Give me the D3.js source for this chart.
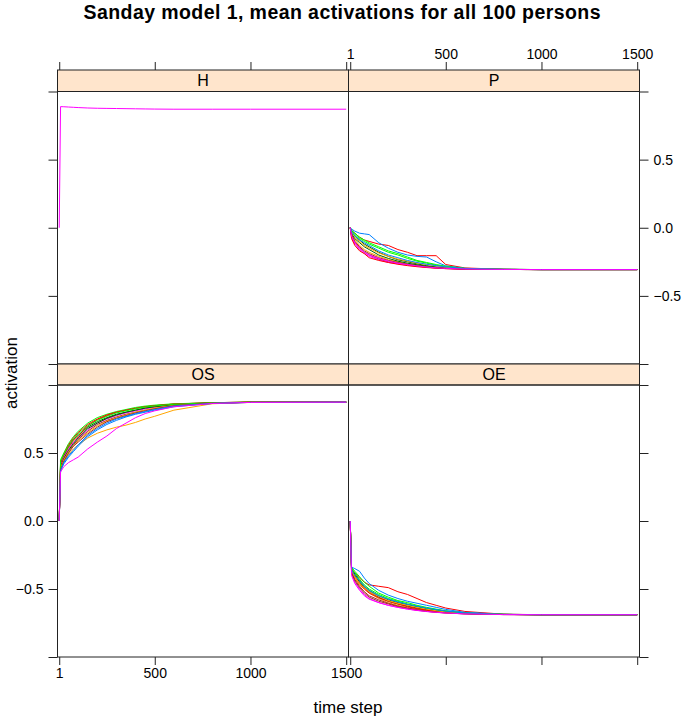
<!DOCTYPE html>
<html>
<head>
<meta charset="utf-8">
<script src="https://cdn.jsdelivr.net/npm/d3@7"></script>
<style>
  body { margin: 0; background: #fff; }
  svg { font-family: "Liberation Sans", Arial, Helvetica, sans-serif; }
</style>
</head>
<body>
<svg id="chart" width="685" height="718"></svg>
<script>
var timeSteps = [1, 8, 25, 50, 75, 100, 150, 200, 250, 300, 350, 400, 450, 500, 600, 800, 1000, 1500];

// a sample of persons (the last one, 100, is drawn on top)
var personIds = [87, 88, 89, 90, 91, 92, 93, 94, 95, 96, 97, 98, 99, 100];

// H is identical for every person, so only the top one (person 100) shows
var hActivation = [0, 0.889, 0.888, 0.886, 0.884, 0.882, 0.879, 0.877, 0.876, 0.875, 0.874, 0.873, 0.872, 0.871, 0.870, 0.870, 0.870, 0.870];

var pActivation = [
  [0, -0.03, -0.06, -0.09, -0.12, -0.14, -0.18, -0.21, -0.235, -0.25, -0.265, -0.278, -0.288, -0.295, -0.302, -0.306, -0.307, -0.307],
  [0, -0.02, -0.04, -0.07, -0.09, -0.10, -0.12, -0.13, -0.16, -0.18, -0.205, -0.205, -0.205, -0.27, -0.295, -0.305, -0.307, -0.307],
  [0, -0.05, -0.09, -0.13, -0.16, -0.18, -0.21, -0.235, -0.25, -0.265, -0.275, -0.285, -0.292, -0.297, -0.303, -0.306, -0.307, -0.307],
  [0, -0.02, -0.05, -0.08, -0.10, -0.12, -0.15, -0.18, -0.20, -0.225, -0.245, -0.26, -0.275, -0.288, -0.30, -0.306, -0.307, -0.307],
  [0, -0.06, -0.11, -0.15, -0.18, -0.20, -0.23, -0.25, -0.26, -0.27, -0.28, -0.29, -0.295, -0.30, -0.304, -0.306, -0.307, -0.307],
  [0, -0.01, -0.025, -0.04, -0.045, -0.05, -0.11, -0.15, -0.18, -0.20, -0.21, -0.215, -0.25, -0.28, -0.298, -0.305, -0.307, -0.307],
  [0, -0.07, -0.12, -0.16, -0.19, -0.21, -0.235, -0.255, -0.265, -0.275, -0.283, -0.29, -0.295, -0.299, -0.304, -0.306, -0.307, -0.307],
  [0, -0.04, -0.08, -0.11, -0.14, -0.16, -0.20, -0.225, -0.245, -0.26, -0.272, -0.282, -0.29, -0.296, -0.302, -0.306, -0.307, -0.307],
  [0, -0.08, -0.13, -0.17, -0.19, -0.22, -0.24, -0.255, -0.268, -0.278, -0.286, -0.292, -0.297, -0.30, -0.304, -0.306, -0.307, -0.307],
  [0, -0.03, -0.07, -0.10, -0.13, -0.15, -0.185, -0.21, -0.23, -0.245, -0.26, -0.27, -0.28, -0.29, -0.30, -0.305, -0.307, -0.307],
  [0, -0.02, -0.04, -0.07, -0.09, -0.11, -0.14, -0.17, -0.19, -0.215, -0.24, -0.255, -0.27, -0.282, -0.298, -0.305, -0.307, -0.307],
  [0, -0.05, -0.10, -0.14, -0.17, -0.19, -0.22, -0.24, -0.255, -0.268, -0.278, -0.287, -0.293, -0.298, -0.303, -0.306, -0.307, -0.307],
  [0, -0.03, -0.06, -0.09, -0.11, -0.13, -0.17, -0.20, -0.22, -0.24, -0.255, -0.268, -0.278, -0.287, -0.299, -0.305, -0.307, -0.307],
  [0, -0.06, -0.11, -0.15, -0.18, -0.20, -0.225, -0.245, -0.26, -0.27, -0.28, -0.288, -0.294, -0.298, -0.303, -0.306, -0.307, -0.307]
];

var osActivation = [
  [0, 0.42, 0.48, 0.55, 0.60, 0.63, 0.69, 0.73, 0.76, 0.785, 0.80, 0.815, 0.83, 0.84, 0.855, 0.868, 0.873, 0.874],
  [0, 0.40, 0.47, 0.54, 0.59, 0.62, 0.70, 0.745, 0.775, 0.80, 0.815, 0.83, 0.84, 0.848, 0.86, 0.87, 0.874, 0.874],
  [0, 0.38, 0.44, 0.49, 0.53, 0.56, 0.61, 0.645, 0.67, 0.69, 0.705, 0.725, 0.75, 0.77, 0.815, 0.862, 0.872, 0.874],
  [0, 0.45, 0.50, 0.57, 0.62, 0.66, 0.72, 0.76, 0.785, 0.805, 0.82, 0.835, 0.845, 0.852, 0.862, 0.87, 0.874, 0.874],
  [0, 0.39, 0.45, 0.51, 0.56, 0.60, 0.66, 0.71, 0.74, 0.765, 0.785, 0.80, 0.815, 0.828, 0.848, 0.866, 0.873, 0.874],
  [0, 0.37, 0.42, 0.47, 0.51, 0.55, 0.62, 0.67, 0.71, 0.74, 0.765, 0.785, 0.80, 0.815, 0.84, 0.864, 0.872, 0.874],
  [0, 0.41, 0.47, 0.53, 0.58, 0.61, 0.67, 0.72, 0.75, 0.775, 0.795, 0.81, 0.825, 0.836, 0.852, 0.867, 0.873, 0.874],
  [0, 0.40, 0.46, 0.52, 0.57, 0.61, 0.68, 0.72, 0.755, 0.78, 0.80, 0.815, 0.83, 0.84, 0.855, 0.868, 0.873, 0.874],
  [0, 0.43, 0.49, 0.56, 0.61, 0.65, 0.71, 0.75, 0.78, 0.80, 0.815, 0.828, 0.84, 0.848, 0.86, 0.87, 0.874, 0.874],
  [0, 0.39, 0.45, 0.51, 0.55, 0.59, 0.65, 0.70, 0.735, 0.76, 0.78, 0.80, 0.815, 0.83, 0.85, 0.866, 0.873, 0.874],
  [0, 0.44, 0.49, 0.55, 0.60, 0.64, 0.70, 0.74, 0.77, 0.795, 0.81, 0.825, 0.838, 0.846, 0.858, 0.869, 0.874, 0.874],
  [0, 0.38, 0.44, 0.50, 0.55, 0.58, 0.64, 0.69, 0.73, 0.755, 0.775, 0.795, 0.81, 0.825, 0.848, 0.866, 0.873, 0.874],
  [0, 0.37, 0.43, 0.48, 0.52, 0.56, 0.63, 0.68, 0.72, 0.75, 0.77, 0.79, 0.805, 0.82, 0.845, 0.865, 0.872, 0.874],
  [0, 0.36, 0.40, 0.43, 0.45, 0.47, 0.53, 0.58, 0.625, 0.68, 0.72, 0.76, 0.79, 0.81, 0.84, 0.864, 0.872, 0.874]
];

var oeActivation = [
  [0, -0.35, -0.39, -0.44, -0.48, -0.51, -0.55, -0.58, -0.60, -0.615, -0.63, -0.645, -0.655, -0.665, -0.678, -0.687, -0.689, -0.689],
  [0, -0.36, -0.38, -0.42, -0.45, -0.47, -0.48, -0.49, -0.52, -0.54, -0.57, -0.60, -0.62, -0.64, -0.665, -0.685, -0.689, -0.689],
  [0, -0.37, -0.42, -0.47, -0.50, -0.53, -0.57, -0.60, -0.62, -0.635, -0.648, -0.658, -0.666, -0.672, -0.68, -0.687, -0.689, -0.689],
  [0, -0.34, -0.37, -0.41, -0.45, -0.48, -0.53, -0.56, -0.585, -0.60, -0.62, -0.635, -0.648, -0.66, -0.675, -0.686, -0.689, -0.689],
  [0, -0.38, -0.43, -0.48, -0.52, -0.55, -0.58, -0.605, -0.625, -0.64, -0.652, -0.662, -0.67, -0.675, -0.682, -0.688, -0.689, -0.689],
  [0, -0.34, -0.35, -0.37, -0.42, -0.46, -0.51, -0.545, -0.57, -0.59, -0.605, -0.62, -0.635, -0.65, -0.672, -0.686, -0.689, -0.689],
  [0, -0.39, -0.45, -0.50, -0.54, -0.57, -0.60, -0.62, -0.635, -0.648, -0.658, -0.666, -0.672, -0.677, -0.683, -0.688, -0.689, -0.689],
  [0, -0.36, -0.40, -0.45, -0.49, -0.52, -0.56, -0.59, -0.61, -0.625, -0.64, -0.652, -0.662, -0.67, -0.68, -0.687, -0.689, -0.689],
  [0, -0.35, -0.41, -0.46, -0.50, -0.53, -0.565, -0.59, -0.61, -0.63, -0.645, -0.656, -0.665, -0.672, -0.68, -0.687, -0.689, -0.689],
  [0, -0.37, -0.41, -0.46, -0.49, -0.52, -0.555, -0.585, -0.605, -0.62, -0.635, -0.648, -0.66, -0.668, -0.679, -0.687, -0.689, -0.689],
  [0, -0.35, -0.38, -0.43, -0.47, -0.50, -0.54, -0.57, -0.59, -0.61, -0.625, -0.64, -0.652, -0.662, -0.677, -0.687, -0.689, -0.689],
  [0, -0.38, -0.44, -0.49, -0.53, -0.56, -0.59, -0.61, -0.63, -0.643, -0.655, -0.664, -0.671, -0.676, -0.683, -0.688, -0.689, -0.689],
  [0, -0.36, -0.40, -0.44, -0.48, -0.51, -0.55, -0.575, -0.595, -0.612, -0.627, -0.64, -0.652, -0.662, -0.676, -0.687, -0.689, -0.689],
  [0, -0.40, -0.46, -0.51, -0.55, -0.575, -0.60, -0.62, -0.635, -0.647, -0.657, -0.665, -0.671, -0.676, -0.683, -0.688, -0.689, -0.689]
];

var xTicks = [1, 500, 1000, 1500];
var yTicks = [-1, -0.5, 0, 0.5, 1];
var yLabelled = [-0.5, 0, 0.5];

// lattice superpose.line colours, cycled by person
var palette = ['#0080ff', '#ff00ff', '#006400', '#ff0000', '#ffa500', '#00ff00', '#a52a2a'];

var svg = d3.select('#chart');

var cols = [[57.5, 348.5], [348.5, 639.5]];
var rows = [{strip: 70, top: 91.5, bottom: 364}, {strip: 364, top: 385, bottom: 657}];

var panels = [
  {name: 'H',  col: 0, row: 0, ids: [100], series: [hActivation]},
  {name: 'P',  col: 1, row: 0, ids: personIds, series: pActivation},
  {name: 'OS', col: 0, row: 1, ids: personIds, series: osActivation},
  {name: 'OE', col: 1, row: 1, ids: personIds, series: oeActivation}
];

var fmt = d3.format('.1f');

panels.forEach(function(p) {
  var r = rows[p.row];
  var x = d3.scaleLinear().domain([-8, 1512]).range(cols[p.col]);
  var y = d3.scaleLinear().domain([-1, 1]).range([r.bottom, r.top]);
  var g = svg.append('g').attr('class', 'panel');

  // strip
  g.append('rect')
    .attr('x', cols[p.col][0]).attr('y', r.strip)
    .attr('width', cols[p.col][1] - cols[p.col][0]).attr('height', r.top - r.strip)
    .attr('fill', '#ffe5cc').attr('stroke', '#222').attr('stroke-width', 1);
  g.append('text')
    .attr('x', (cols[p.col][0] + cols[p.col][1]) / 2).attr('y', (r.strip + r.top) / 2 + 5.5)
    .attr('text-anchor', 'middle').attr('font-size', 16)
    .text(p.name);

  var line = d3.line()
    .x(function(d, i) { return x(timeSteps[i]); })
    .y(function(d) { return y(d); });

  g.selectAll('.person')
    .data(p.series)
    .enter().append('path')
    .attr('class', 'person')
    .attr('d', line)
    .attr('fill', 'none')
    .attr('stroke-width', 1)
    .attr('stroke', function(d, i) { return palette[(p.ids[i] - 1) % 7]; });

  g.append('rect')
    .attr('x', cols[p.col][0]).attr('y', r.top)
    .attr('width', cols[p.col][1] - cols[p.col][0]).attr('height', r.bottom - r.top)
    .attr('fill', 'none').attr('stroke', '#222').attr('stroke-width', 1);

  // x axis: top row gets ticks above the strip, bottom row below the panel
  var xAxis = p.row === 0 ? d3.axisTop(x) : d3.axisBottom(x);
  var showX = (p.row === 0 && p.col === 1) || (p.row === 1 && p.col === 0);
  xAxis.tickValues(xTicks).tickSize(8).tickSizeOuter(0).tickPadding(3)
    .tickFormat(function(d) { return showX ? d : ''; });
  var ax = g.append('g')
    .attr('transform', 'translate(0,' + (p.row === 0 ? r.strip : r.bottom) + ')')
    .call(xAxis);

  // y axis: left column on the left, right column on the right
  var yAxis = p.col === 0 ? d3.axisLeft(y) : d3.axisRight(y);
  var showY = (p.row === 1 && p.col === 0) || (p.row === 0 && p.col === 1);
  yAxis.tickValues(yTicks).tickSize(9).tickSizeOuter(0).tickPadding(5)
    .tickFormat(function(d) { return showY && yLabelled.indexOf(d) >= 0 ? fmt(d) : ''; });
  var ay = g.append('g')
    .attr('transform', 'translate(' + cols[p.col][p.col === 0 ? 0 : 1] + ',0)')
    .call(yAxis);

  [ax, ay].forEach(function(a) {
    a.select('.domain').remove();
    a.selectAll('line').attr('stroke', '#222');
    a.selectAll('text').attr('font-size', 14).attr('fill', '#000')
      .attr('font-family', '"Liberation Sans", Arial, sans-serif');
  });
});

svg.append('text')
  .attr('x', 342).attr('y', 18.5)
  .attr('text-anchor', 'middle').attr('font-size', 19.5).attr('font-weight', 'bold')
  .attr('textLength', 517).attr('lengthAdjust', 'spacing')
  .text('Sanday model 1, mean activations for all 100 persons');

svg.append('text')
  .attr('x', 348).attr('y', 713)
  .attr('text-anchor', 'middle').attr('font-size', 17)
  .text('time step');

svg.append('text')
  .attr('transform', 'translate(17,373) rotate(-90)')
  .attr('text-anchor', 'middle').attr('font-size', 17)
  .text('activation');
</script>
</body>
</html>
